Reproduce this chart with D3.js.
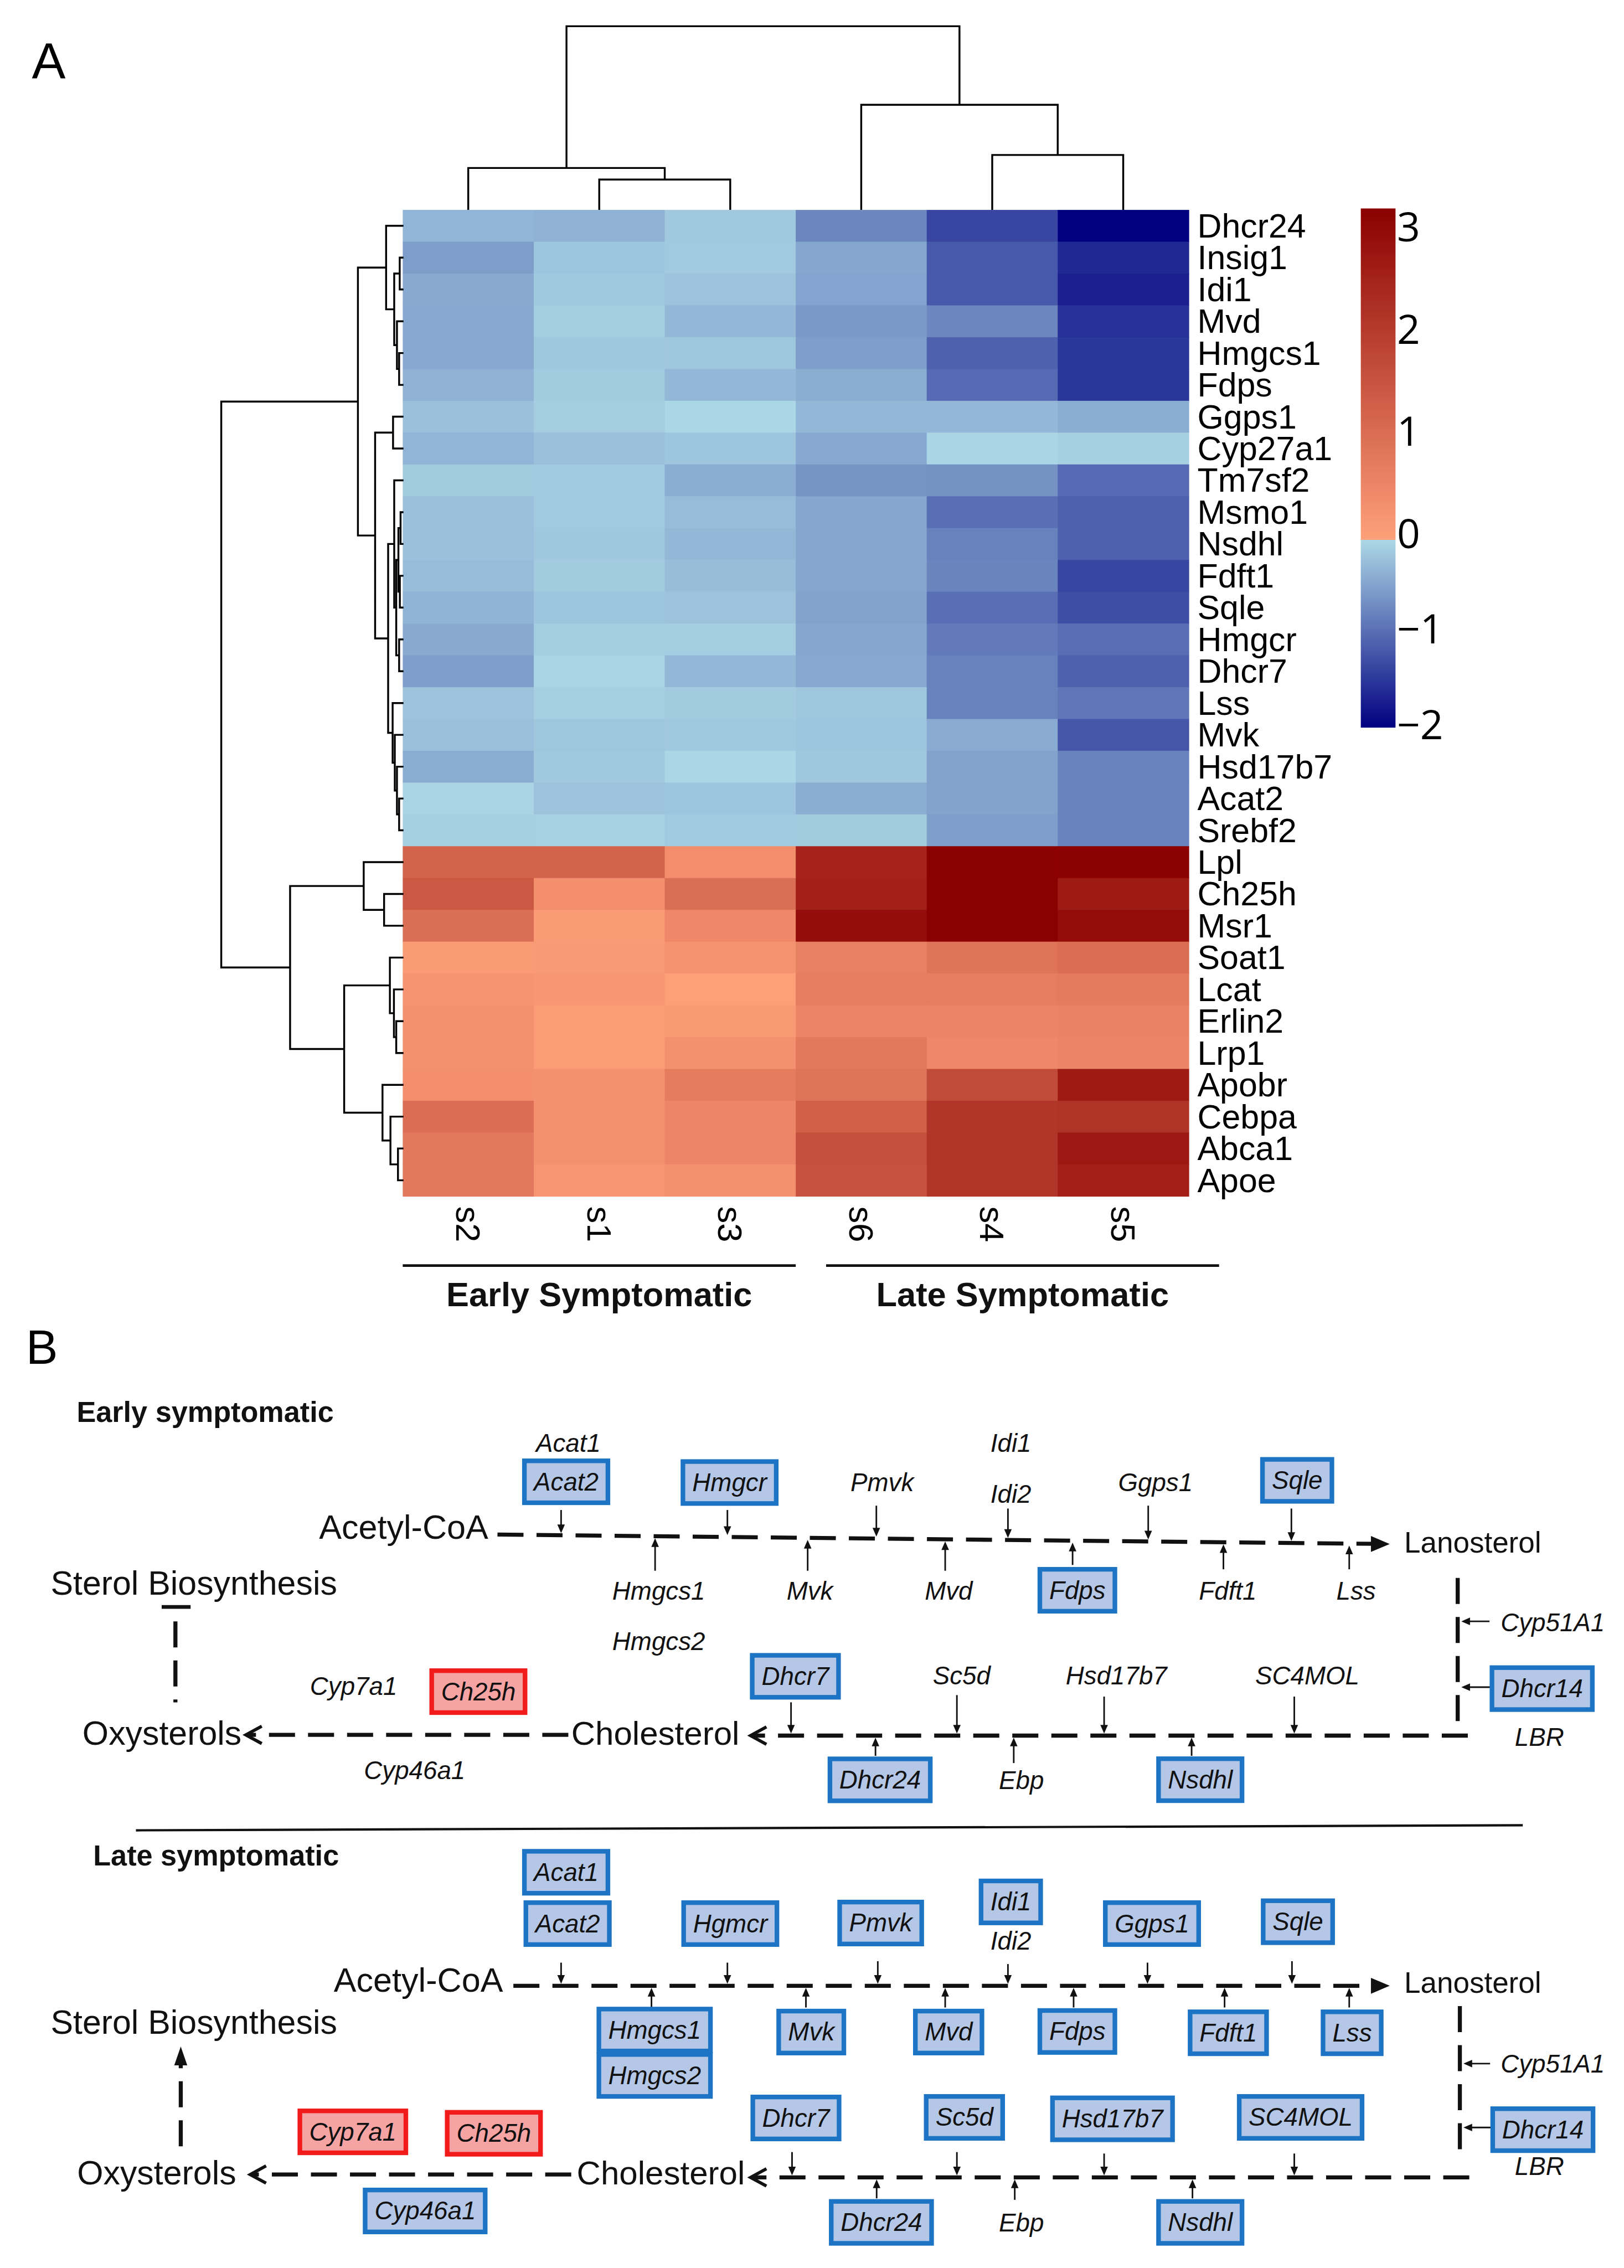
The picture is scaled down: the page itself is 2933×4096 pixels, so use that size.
<!DOCTYPE html>
<html>
<head>
<meta charset="utf-8">
<script src="https://cdn.jsdelivr.net/npm/d3@7/dist/d3.min.js"></script>
<style>
  html, body { margin: 0; padding: 0; background: #fff; }
  svg { display: block; }
</style>
</head>
<body>
<svg id="fig"></svg>
<script>
'use strict';

// ---------------- panel A data ----------------
var samples = ['s2', 's1', 's3', 's6', 's4', 's5'];
var genes = ['Dhcr24', 'Insig1', 'Idi1', 'Mvd', 'Hmgcs1', 'Fdps', 'Ggps1', 'Cyp27a1', 'Tm7sf2', 'Msmo1',
    'Nsdhl', 'Fdft1', 'Sqle', 'Hmgcr', 'Dhcr7', 'Lss', 'Mvk', 'Hsd17b7', 'Acat2', 'Srebf2',
    'Lpl', 'Ch25h', 'Msr1', 'Soat1', 'Lcat', 'Erlin2', 'Lrp1', 'Apobr', 'Cebpa', 'Abca1', 'Apoe'];
// z-scores, one row per gene, columns in the order of `samples`
var zscores = [
    [-0.32, -0.35, -0.15, -0.75, -1.35, -2.00],
    [-0.54, -0.18, -0.14, -0.46, -1.18, -1.63],
    [-0.43, -0.15, -0.20, -0.48, -1.18, -1.70],
    [-0.45, -0.10, -0.30, -0.58, -0.75, -1.55],
    [-0.44, -0.16, -0.17, -0.53, -1.10, -1.50],
    [-0.36, -0.12, -0.30, -0.40, -1.02, -1.50],
    [-0.22, -0.10, -0.02, -0.30, -0.30, -0.40],
    [-0.32, -0.22, -0.18, -0.44, -0.03, -0.08],
    [-0.13, -0.14, -0.40, -0.63, -0.65, -1.02],
    [-0.22, -0.14, -0.26, -0.46, -0.97, -1.10],
    [-0.22, -0.16, -0.30, -0.46, -0.80, -1.10],
    [-0.26, -0.12, -0.25, -0.46, -0.78, -1.35],
    [-0.33, -0.18, -0.20, -0.49, -0.97, -1.28],
    [-0.43, -0.10, -0.10, -0.46, -0.87, -0.98],
    [-0.53, -0.03, -0.30, -0.44, -0.80, -1.10],
    [-0.20, -0.08, -0.12, -0.17, -0.80, -0.90],
    [-0.22, -0.17, -0.15, -0.18, -0.42, -1.20],
    [-0.40, -0.15, -0.02, -0.16, -0.49, -0.80],
    [-0.04, -0.20, -0.18, -0.40, -0.49, -0.80],
    [-0.08, -0.07, -0.14, -0.12, -0.53, -0.80],
    [1.13, 1.13, 0.34, 2.34, 3.00, 2.98],
    [1.35, 0.32, 0.92, 2.40, 3.00, 2.50],
    [0.92, 0.10, 0.45, 2.75, 3.00, 2.75],
    [0.10, 0.13, 0.25, 0.60, 0.83, 0.95],
    [0.24, 0.18, 0.02, 0.65, 0.65, 0.70],
    [0.30, 0.08, 0.12, 0.50, 0.50, 0.55],
    [0.30, 0.08, 0.30, 0.75, 0.45, 0.50],
    [0.32, 0.30, 0.68, 0.82, 1.60, 2.50],
    [0.95, 0.30, 0.48, 1.20, 2.00, 2.05],
    [0.75, 0.30, 0.48, 1.50, 2.00, 2.55],
    [0.75, 0.20, 0.30, 1.45, 2.00, 2.40]
];
// dendrograms: [merge height, left, right], leaves are names
var colTree = [12.7, [2.9, 's2', [2.1, 's1', 's3']], [7.27, 's6', [3.8, 's4', 's5']]];
var rowTree = [126,
    [31.5,
        [12, 'Dhcr24', [6.4, [2.6, 'Insig1', 'Idi1'], [4.5, 'Mvd', [3, 'Hmgcs1', 'Fdps']]]],
        [19.6,
            [7.2, 'Ggps1', 'Cyp27a1'],
            [10.6,
                [6.4, 'Tm7sf2', [5, [3.5, [2, 'Msmo1', 'Nsdhl'], [2.5, 'Fdft1', 'Sqle']], [3, 'Hmgcr', 'Dhcr7']]],
                [7.5, 'Lss', [6, 'Mvk', [4.5, 'Hsd17b7', [3, 'Acat2', 'Srebf2']]]]]]],
    [78.4,
        [27.5, 'Lpl', [13.4, 'Ch25h', 'Msr1']],
        [41,
            [9.4, 'Soat1', [6.6, 'Lcat', [5, 'Erlin2', 'Lrp1']]],
            [14.5, 'Apobr', [9, 'Cebpa', [3.8, 'Abca1', 'Apoe']]]]]];
var groupNames = ['Early Symptomatic', 'Late Symptomatic'];
var groupSamples = [['s2', 's1', 's3'], ['s6', 's4', 's5']];
var legendTicks = [3, 2, 1, 0, -1, -2];

// ---------------- panel B data ----------------
var metabolites = ['Acetyl-CoA', 'Lanosterol', 'Cholesterol', 'Oxysterols', 'Sterol Biosynthesis'];
var stageTitles = ['Early symptomatic', 'Late symptomatic'];
var earlyDown = ['Acat2', 'Hmgcr', 'Sqle', 'Fdps', 'Dhcr7', 'Dhcr24', 'Nsdhl', 'Dhcr14'];
var earlyUp = ['Ch25h'];
var lateDown = ['Acat1', 'Acat2', 'Hgmcr', 'Pmvk', 'Idi1', 'Ggps1', 'Sqle', 'Hmgcs1', 'Hmgcs2', 'Mvk', 'Mvd',
    'Fdps', 'Fdft1', 'Lss', 'Dhcr14', 'Dhcr7', 'Sc5d', 'Hsd17b7', 'SC4MOL', 'Dhcr24', 'Nsdhl', 'Cyp46a1'];
var lateUp = ['Cyp7a1', 'Ch25h'];

// diagram layout (page units of a 1123 x 1568 sheet)
var earlyLayout = {
    title: [53, 983],
    text: { 'Acetyl-CoA': [220.6, 1064, 23.4], 'Lanosterol': [971, 1073.5, 20.3], 'Cholesterol': [395, 1206.5, 23],
        'Oxysterols': [57, 1206.5, 23.3], 'Sterol Biosynthesis': [35, 1102.7, 23.3] },
    top: [344, 1061, 961, 1067.5],
    bottom: [1015, 519, 1200],
    left: [393, 170, 1199.5],
    right: [1008, 1091, 1198],
    feedback: [121.3, 1177, 1121, 'inhibit'],
    genes: [['Acat1', 393, 998], ['Acat2', 391.5, 1024.5], ['Hmgcr', 504.5, 1025], ['Pmvk', 610, 1025],
        ['Idi1', 699, 998], ['Idi2', 699, 1033], ['Ggps1', 799, 1025], ['Sqle', 897, 1023.5],
        ['Hmgcs1', 455.5, 1100], ['Hmgcs2', 455.5, 1135], ['Mvk', 560, 1100], ['Mvd', 656, 1100],
        ['Fdps', 745, 1099.5], ['Fdft1', 849, 1100], ['Lss', 937.7, 1100],
        ['Cyp51A1', 1073.7, 1122], ['Dhcr14', 1066.4, 1167.5], ['LBR', 1064.5, 1201],
        ['Dhcr7', 550, 1159], ['Sc5d', 665, 1158.5], ['Hsd17b7', 772, 1158.5], ['SC4MOL', 904, 1158.5],
        ['Dhcr24', 608.6, 1230.6], ['Ebp', 706.3, 1231], ['Nsdhl', 830, 1230.5],
        ['Cyp7a1', 244.5, 1166], ['Ch25h', 330.8, 1169.6], ['Cyp46a1', 286.7, 1224]],
    arrows: [[388, 1044, 'top'], [503, 1044, 'top'], [606, 1041, 'top'], [697, 1043, 'top'], [794, 1041, 'top'], [893, 1043, 'top'],
        [453, 1086, 'top'], [558.5, 1086, 'top'], [653.6, 1086, 'top'], [741.7, 1082, 'top'], [846, 1085, 'top'], [933, 1085, 'top'],
        [547, 1177, 'bot'], [661.7, 1172, 'bot'], [763.5, 1173, 'bot'], [895, 1173, 'bot'],
        [605.4, 1214, 'bot'], [701, 1219, 'bot'], [824, 1214, 'bot'],
        [1030, 1121, 'right'], [1031, 1166.5, 'right']]
};
var lateLayout = {
    title: [64.4, 1289.8],
    text: { 'Acetyl-CoA': [230.8, 1377, 23.4], 'Lanosterol': [971, 1378, 20.3], 'Cholesterol': [398.8, 1510.5, 23],
        'Oxysterols': [53.3, 1510.5, 23.3], 'Sterol Biosynthesis': [35, 1406.3, 23.3] },
    top: [355, 1373, 961, 1373],
    bottom: [1016, 519, 1505.5],
    left: [395, 173, 1503.5],
    right: [1009.5, 1387, 1489],
    feedback: [125, 1484, 1415, 'activate'],
    genes: [['Acat1', 391.5, 1294.5], ['Acat2', 392.5, 1330], ['Hgmcr', 505, 1330], ['Pmvk', 609, 1329.6],
        ['Idi1', 699, 1315], ['Idi2', 699, 1342], ['Ggps1', 796.6, 1330], ['Sqle', 897.5, 1328.7],
        ['Hmgcs1', 452.7, 1403.6], ['Hmgcs2', 452.7, 1435], ['Mvk', 561, 1405], ['Mvd', 656, 1405],
        ['Fdps', 745, 1404.6], ['Fdft1', 849.4, 1405.5], ['Lss', 935, 1405.5],
        ['Cyp51A1', 1073.7, 1427], ['Dhcr14', 1066.9, 1472.5], ['LBR', 1064.5, 1498],
        ['Dhcr7', 550.4, 1464.4], ['Sc5d', 666.9, 1464], ['Hsd17b7', 769.3, 1465], ['SC4MOL', 899.4, 1464],
        ['Dhcr24', 609.5, 1536.6], ['Ebp', 706.3, 1537], ['Nsdhl', 830, 1536.6],
        ['Cyp7a1', 244, 1474], ['Ch25h', 341.5, 1475], ['Cyp46a1', 294, 1528.7]],
    arrows: [[388, 1357, 'top'], [503, 1357, 'top'], [607, 1356, 'top'], [697, 1358, 'top'], [793.5, 1357, 'top'], [893.4, 1356, 'top'],
        [450.5, 1388, 'top'], [557.3, 1388, 'top'], [653.6, 1388, 'top'], [742.4, 1388, 'top'], [846.8, 1388, 'top'], [933, 1388, 'top'],
        [547.7, 1488, 'bot'], [661.7, 1488, 'bot'], [763.5, 1489, 'bot'], [895, 1489, 'bot'],
        [606.2, 1520, 'bot'], [701.7, 1521, 'bot'], [824.6, 1520, 'bot'],
        [1030.4, 1426.8, 'right'], [1031, 1471, 'right']]
};

var FONT = '"Liberation Sans", Arial, Helvetica, sans-serif';

var svg = d3.select('#fig')
    .attr('width', 2933)
    .attr('height', 4096)
    .attr('viewBox', '0 0 1123 1568')
    .attr('font-family', FONT);

svg.append('rect').attr('width', 1123).attr('height', 1568).attr('fill', '#fff');

svg.append('text').attr('x', 22).attr('y', 54).attr('font-size', 35).text('A');
svg.append('text').attr('x', 18).attr('y', 943).attr('font-size', 33).text('B');

// ---------------- heatmap ----------------
var x = d3.scaleBand().domain(samples).range([278.5, 822]);
var y = d3.scaleBand().domain(genes).range([145, 827]);

var blue = d3.scaleLinear().domain([-2, 0]).range(['navy', 'lightblue']).clamp(true);
var red = d3.scaleLinear().domain([0, 3]).range(['lightsalmon', 'darkred']).clamp(true);
function colour(v) { return v < 0 ? blue(v) : red(v); }

var heat = svg.append('g');
genes.forEach(function (gene, i) {
    heat.selectAll(null)
        .data(zscores[i])
        .enter().append('rect')
        .attr('x', function (d, j) { return x(samples[j]); })
        .attr('y', y(gene))
        .attr('width', x.bandwidth() + 0.3)
        .attr('height', y.bandwidth() + 0.3)
        .attr('fill', colour);
});

svg.append('g').selectAll('text')
    .data(genes)
    .enter().append('text')
    .attr('x', 828)
    .attr('y', function (d) { return y(d) + y.bandwidth() / 2; })
    .attr('dominant-baseline', 'central')
    .attr('font-size', 23.3)
    .text(function (d) { return d; });

svg.append('g').selectAll('text')
    .data(samples)
    .enter().append('text')
    .attr('transform', function (d) { return 'translate(' + (x(d) + x.bandwidth() / 2) + ',834) rotate(90)'; })
    .attr('dominant-baseline', 'central')
    .attr('font-size', 23.5)
    .text(function (d) { return d; });

// ---------------- dendrograms ----------------
function dendrogram(tree, leafPos, hPos, vertical) {
    var root = d3.hierarchy(tree, function (d) { return typeof d === 'string' ? null : d.slice(1); });
    var height = function (d) { return typeof d.data === 'string' ? 0 : d.data[0]; };
    var pt = vertical ? function (p, h) { return [p, h]; } : function (p, h) { return [h, p]; };

    root.eachAfter(function (d) {
        d.pos = d.children ? (d.children[0].pos + d.children[1].pos) / 2 : leafPos(d.data);
    });

    var path = d3.path();
    root.each(function (d) {
        if (!d.children) return;
        var a = d.children[0], b = d.children[1], h = hPos(height(d));
        var p0 = pt(a.pos, hPos(height(a))), p1 = pt(a.pos, h), p2 = pt(b.pos, h), p3 = pt(b.pos, hPos(height(b)));
        path.moveTo(p0[0], p0[1]);
        path.lineTo(p1[0], p1[1]);
        path.lineTo(p2[0], p2[1]);
        path.lineTo(p3[0], p3[1]);
    });
    return path.toString();
}

var colH = d3.scaleLinear().domain([0, 12.7]).range([145, 18]);
var rowH = d3.scaleLinear().domain([0, 126]).range([279, 153]);

svg.append('path')
    .attr('d', dendrogram(colTree, function (s) { return x(s) + x.bandwidth() / 2; }, colH, true))
    .attr('fill', 'none').attr('stroke', '#000').attr('stroke-width', 1.3);

svg.append('path')
    .attr('d', dendrogram(rowTree, function (g) { return y(g) + y.bandwidth() / 2; }, rowH, false))
    .attr('fill', 'none').attr('stroke', '#000').attr('stroke-width', 1.3);

// ---------------- sample groups ----------------
var groupShift = [0, 21];
groupSamples.forEach(function (grp, i) {
    var x0 = x(grp[0]) + groupShift[i];
    var x1 = x(grp[grp.length - 1]) + x.bandwidth() + groupShift[i];
    svg.append('line')
        .attr('x1', x0).attr('x2', x1).attr('y1', 875).attr('y2', 875)
        .attr('stroke', '#111').attr('stroke-width', 1.8);
    svg.append('text')
        .attr('x', (x0 + x1) / 2).attr('y', 903)
        .attr('text-anchor', 'middle')
        .attr('font-size', 23.5).attr('font-weight', 'bold')
        .attr('fill', '#111')
        .text(groupNames[i]);
});

// ---------------- colour legend ----------------
var legY = d3.scaleLinear().domain([3, 0, -2]).range([144, 373, 503]);
var tickY = d3.scaleLinear().domain([3, 0, -2]).range([156, 368, 500]);

var grad = svg.append('defs').append('linearGradient')
    .attr('id', 'legendGrad')
    .attr('x1', 0).attr('y1', 0).attr('x2', 0).attr('y2', 1);

var stops = [];
d3.range(3, -0.001, -0.25).forEach(function (v) { stops.push([v, red(v)]); });
d3.range(0, -2.001, -0.25).forEach(function (v) { stops.push([v, blue(v)]); });
grad.selectAll('stop')
    .data(stops)
    .enter().append('stop')
    .attr('offset', function (d) { return (legY(d[0]) - legY(3)) / (legY(-2) - legY(3)); })
    .attr('stop-color', function (d) { return d[1]; });

svg.append('rect')
    .attr('x', 941).attr('y', legY(3))
    .attr('width', 24).attr('height', legY(-2) - legY(3))
    .attr('fill', 'url(#legendGrad)');

var fmt = d3.format('d');
svg.append('g').selectAll('text')
    .data(legendTicks)
    .enter().append('text')
    .attr('x', 966)
    .attr('y', function (d) { return tickY(d); })
    .attr('dominant-baseline', 'central')
    .attr('font-family', '"Open Sans", sans-serif')
    .attr('font-size', 28)
    .text(function (d) { return fmt(d); });

// ---------------- pathway diagram ----------------
var INK = '#111';

function head(tx, ty, dx, dy, len, hw) {
    var bx = tx - dx * len, by = ty - dy * len;
    return 'M' + tx + ',' + ty + 'L' + (bx - dy * hw) + ',' + (by + dx * hw) + 'L' + (bx + dy * hw) + ',' + (by - dx * hw) + 'Z';
}

function dashed(sel) {
    sel.attr('stroke', INK).attr('stroke-width', 2.8).attr('stroke-dasharray', '18 9').attr('fill', 'none');
}

function chevron(g, tx, ty) {
    g.append('path')
        .attr('d', 'M' + (tx + 11) + ',' + (ty - 6) + 'L' + tx + ',' + ty + 'L' + (tx + 11) + ',' + (ty + 6))
        .attr('fill', 'none').attr('stroke', INK).attr('stroke-width', 2.2);
}

function drawStage(L, title, down, up) {
    var g = svg.append('g').attr('fill', INK);

    g.append('text')
        .attr('x', L.title[0]).attr('y', L.title[1])
        .attr('font-size', 20).attr('font-weight', 'bold')
        .text(title);

    metabolites.forEach(function (m) {
        var t = L.text[m];
        g.append('text').attr('x', t[0]).attr('y', t[1]).attr('font-size', t[2]).text(m);
    });

    // Acetyl-CoA -> Lanosterol
    var top = L.top;
    var topY = d3.scaleLinear().domain([top[0], top[2]]).range([top[1], top[3]]);
    g.append('line')
        .attr('x1', top[0]).attr('y1', top[1])
        .attr('x2', top[2] - 8).attr('y2', topY(top[2] - 8))
        .call(dashed);
    g.append('path').attr('d', head(top[2], top[3], 1, 0, 13, 5.5)).attr('fill', INK);

    // Lanosterol -> Cholesterol
    var r = L.right;
    g.append('line').attr('x1', r[0]).attr('y1', r[1]).attr('x2', r[0]).attr('y2', r[2]).call(dashed);
    var b = L.bottom;
    g.append('line').attr('x1', b[0]).attr('y1', b[2]).attr('x2', b[1] + 2).attr('y2', b[2]).call(dashed);
    chevron(g, b[1], b[2]);

    // Cholesterol -> Oxysterols
    var l = L.left;
    g.append('line').attr('x1', l[0]).attr('y1', l[2]).attr('x2', l[1] + 2).attr('y2', l[2]).call(dashed);
    chevron(g, l[1], l[2]);

    // Oxysterols feedback on sterol biosynthesis
    var f = L.feedback;
    if (f[3] === 'inhibit') {
        g.append('line').attr('x1', f[0]).attr('y1', f[2]).attr('x2', f[0]).attr('y2', f[1]).call(dashed);
        g.append('line')
            .attr('x1', f[0] - 9.5).attr('x2', f[0] + 10.5).attr('y1', f[2] - 10).attr('y2', f[2] - 10)
            .attr('stroke', INK).attr('stroke-width', 2.6);
    } else {
        g.append('line').attr('x1', f[0]).attr('y1', f[1]).attr('x2', f[0]).attr('y2', f[2] + 10).call(dashed);
        g.append('path').attr('d', head(f[0], f[2], 0, -1, 13, 4.5)).attr('fill', INK);
    }

    // enzyme arrows
    L.arrows.forEach(function (a) {
        var x0 = a[0], y0 = a[1], x1, y1;
        if (a[2] === 'right') {
            x1 = r[0] + 2.5; y1 = y0;
        } else {
            var ly = a[2] === 'top' ? topY(x0) : b[2];
            x1 = x0; y1 = y0 < ly ? ly - 1.4 : ly + 1.4;
        }
        var len = Math.hypot(x1 - x0, y1 - y0), dx = (x1 - x0) / len, dy = (y1 - y0) / len;
        g.append('line')
            .attr('x1', x0).attr('y1', y0).attr('x2', x1 - dx * 4).attr('y2', y1 - dy * 4)
            .attr('stroke', INK).attr('stroke-width', 1.1);
        g.append('path').attr('d', head(x1, y1, dx, dy, 6, 2.6)).attr('fill', INK);
    });

    // enzymes: boxed when down (blue) or up (red) regulated
    L.genes.forEach(function (n) {
        var name = n[0];
        var status = down.indexOf(name) >= 0 ? 'down' : (up.indexOf(name) >= 0 ? 'up' : null);
        var node = g.append('g').attr('transform', 'translate(' + n[1] + ',' + n[2] + ')');
        var box = status ? node.append('rect') : null;
        var txt = node.append('text')
            .attr('text-anchor', 'middle')
            .attr('dominant-baseline', 'central')
            .attr('font-size', 17.5)
            .attr('font-style', 'italic')
            .text(name);
        if (box) {
            var w = txt.node().getComputedTextLength() + 13;
            box.attr('x', -w / 2).attr('y', -14.5)
                .attr('width', w).attr('height', 29)
                .attr('fill', status === 'down' ? '#B4C7E7' : '#F5A3A3')
                .attr('stroke', status === 'down' ? '#1E74C4' : '#F21B1B')
                .attr('stroke-width', 3.2);
        }
    });
}

drawStage(earlyLayout, stageTitles[0], earlyDown, earlyUp);

svg.append('line')
    .attr('x1', 94).attr('y1', 1265.5).attr('x2', 1053).attr('y2', 1262)
    .attr('stroke', INK).attr('stroke-width', 1.6);

drawStage(lateLayout, stageTitles[1], lateDown, lateUp);
</script>
</body>
</html>
